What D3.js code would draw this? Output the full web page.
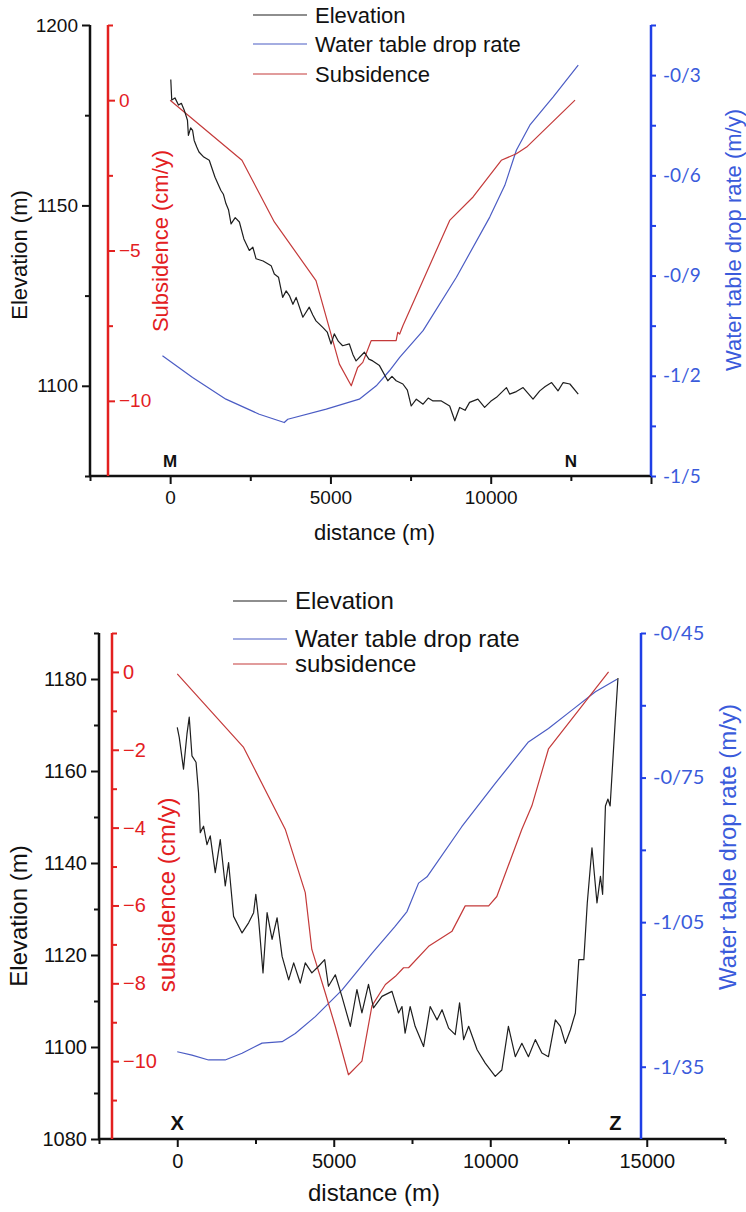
<!DOCTYPE html>
<html lang="en">
<head>
<meta charset="UTF-8">
<title>Elevation, water table and subsidence profiles</title>
<script src="https://d3js.org/d3.v7.min.js"></script>
<style>
    body { margin: 0; background: #fff; }
    svg { display: block; }
    text { font-family: "Liberation Sans", Arial, sans-serif; }
    .blue-lbl { font-family: Lato, "Liberation Sans", sans-serif; }
</style>
</head>
<body>
<svg width="746" height="1212"></svg>
<script>
// ---------- profile M-N (top) ----------
const mnElevDist = [20, 50, 150, 260, 350, 440, 540, 570, 640, 700, 750, 830, 900, 1050, 1220, 1400, 1580, 1660, 1740, 1820, 1900, 2030, 2160, 2300, 2470, 2580, 2680, 2900, 3150, 3250, 3380, 3510, 3620, 3720, 3830, 3930, 4140, 4340, 4450, 4550, 4760, 4900, 5020, 5120, 5250, 5380, 5590, 5700, 5800, 6060, 6200, 6320, 6530, 6790, 6920, 7050, 7260, 7400, 7520, 7680, 7890, 8050, 8200, 8460, 8720, 8880, 9030, 9200, 9340, 9600, 9810, 10000, 10180, 10490, 10590, 10800, 11010, 11320, 11530, 11700, 11900, 12100, 12260, 12470, 12730];
const mnElev = [1184.9, 1179.2, 1179.8, 1177.8, 1178.3, 1176.4, 1173.6, 1169.4, 1171.5, 1170.8, 1168, 1166.2, 1164.8, 1163.4, 1162.5, 1157.8, 1154.2, 1153.1, 1150.5, 1148.8, 1144.9, 1146.6, 1145.4, 1140.7, 1137.5, 1138.4, 1135.2, 1134.6, 1133.3, 1131, 1130.1, 1124.5, 1126.3, 1125, 1122.6, 1124.5, 1119, 1121.8, 1119.6, 1118, 1116.2, 1114.9, 1111.6, 1114.4, 1112.3, 1111.1, 1111.6, 1108.7, 1106.9, 1109.3, 1107.4, 1106.9, 1105.6, 1101.4, 1102.6, 1101.4, 1100.5, 1098.8, 1094.4, 1096.3, 1094.9, 1096.6, 1095.8, 1095.8, 1094.4, 1090.3, 1094, 1093.2, 1095.4, 1096.3, 1094, 1095.7, 1096.8, 1099.5, 1097.7, 1098.4, 1099.5, 1096.3, 1098.6, 1099.8, 1100.9, 1098.6, 1100.9, 1100.5, 1097.7];

const mnSubDist = [0, 2240, 3250, 4550, 5280, 5650, 5850, 6010, 6270, 7050, 7100, 7160, 7260, 8720, 9450, 10330, 10800, 11120, 12630];
const mnSub = [0, -2.0, -4.05, -6.0, -8.78, -9.5, -8.89, -8.72, -8.0, -8.0, -7.72, -7.78, -7.5, -4.0, -3.22, -2.0, -1.78, -1.56, 0.0];

const mnWaterDist = [-240, 700, 1740, 2780, 3560, 3670, 4870, 5900, 6430, 6840, 7160, 7890, 8930, 9970, 10440, 10800, 11220, 11690, 11950, 12730];
const mnWater = [-1.14, -1.205, -1.27, -1.315, -1.34, -1.33, -1.30, -1.27, -1.23, -1.185, -1.145, -1.065, -0.905, -0.725, -0.63, -0.525, -0.45, -0.395, -0.365, -0.27];

const mnElevTicks = [1100, 1150, 1200];
const mnSubTicks = [0, -5, -10];
const mnWaterTicks = [-0.3, -0.6, -0.9, -1.2, -1.5];
const mnWaterLabels = ["-0/3", "-0/6", "-0/9", "-1/2", "-1/5"];

// ---------- profile X-Z (bottom) ----------
const xzElevDist = [0, 64, 200, 310, 383, 470, 600, 680, 735, 840, 950, 1054, 1214, 1374, 1534, 1640, 1800, 2070, 2280, 2440, 2510, 2600, 2740, 2870, 3030, 3190, 3350, 3560, 3720, 3930, 4090, 4300, 4510, 4710, 4830, 5050, 5260, 5530, 5740, 5900, 6110, 6270, 6540, 6860, 7070, 7180, 7280, 7440, 7600, 7870, 8080, 8300, 8460, 8670, 8880, 9020, 9150, 9310, 9580, 9840, 10160, 10370, 10580, 10800, 11010, 11220, 11440, 11650, 11860, 12080, 12240, 12400, 12560, 12720, 12830, 12990, 13100, 13250, 13410, 13520, 13590, 13680, 13760, 13830, 13990, 14080];
const xzElev = [1169.5, 1167.3, 1160.4, 1168, 1171.7, 1163.3, 1161.9, 1155.3, 1146.6, 1148, 1144, 1145.9, 1137.9, 1145.1, 1135, 1140.1, 1128.4, 1124.8, 1127, 1129.2, 1133.2, 1127.7, 1116.1, 1129.2, 1123.4, 1128.1, 1119.7, 1114.6, 1118.3, 1113.9, 1118.3, 1116.1, 1117.5, 1119, 1113.2, 1115.7, 1111, 1104.5, 1112.5, 1107.4, 1113.6, 1108.5, 1111, 1112.1, 1107.4, 1108.8, 1103, 1108.8, 1104.5, 1100.1, 1108.8, 1105.9, 1108.1, 1104.1, 1102.7, 1109.6, 1101.6, 1104.5, 1099.4, 1096.5, 1093.6, 1095, 1104.5, 1097.9, 1100.8, 1097.9, 1101.6, 1098.7, 1097.9, 1105.9, 1104.5, 1100.8, 1103.7, 1107.4, 1119, 1119, 1131.3, 1143.3, 1131.3, 1137.1, 1133.2, 1152.4, 1153.9, 1152.4, 1170.6, 1180.2];

const xzSubDist = [0, 2120, 3450, 4090, 4300, 4730, 5050, 5470, 5900, 6220, 6650, 6970, 7230, 7390, 8030, 8780, 9200, 9950, 10210, 11010, 11330, 11860, 13780];
const xzSub = [-0.05, -1.94, -4.04, -5.67, -7.13, -8.25, -9.11, -10.35, -10.0, -8.58, -8.03, -7.82, -7.6, -7.6, -7.05, -6.66, -6.01, -6.01, -5.77, -4.04, -3.44, -1.98, 0.0];

const xzWaterDist = [0, 470, 1000, 1530, 2070, 2710, 3350, 3770, 4410, 5260, 6220, 6960, 7340, 7710, 7980, 9090, 10160, 11220, 11860, 12610, 13360, 14050];
const xzWater = [-1.319, -1.326, -1.336, -1.336, -1.322, -1.301, -1.298, -1.281, -1.246, -1.191, -1.115, -1.059, -1.028, -0.969, -0.956, -0.852, -0.762, -0.676, -0.648, -0.61, -0.572, -0.546];

const xzElevTicks = [1080, 1100, 1120, 1140, 1160, 1180];
const xzSubTicks = [0, -2, -4, -6, -8, -10];
const xzWaterTicks = [-0.45, -0.75, -1.05, -1.35];
const xzWaterLabels = ["-0/45", "-0/75", "-1/05", "-1/35"];

const legendNames = ["Elevation", "Water table drop rate"];

const C_ELEV = "#1e1e1e", C_WATER = "#4b5cc4", C_SUB = "#c43a3a";
const C_RED_AX = "#e3201f", C_BLUE_AX = "#1f3fe6", C_BLUE_TXT = "#3a5bdb";

const svg = d3.select("svg");

function drawPanel(p) {
    const g = svg.append("g");
    const x = d3.scaleLinear().domain(p.xDomain).range([p.left, p.right]);
    const yE = d3.scaleLinear().domain(p.elevDomain).range([p.bottom, p.top]);
    const yS = d3.scaleLinear().domain(p.subDomain).range([p.bottom, p.top]);
    const yW = d3.scaleLinear().domain(p.waterDomain).range([p.bottom, p.top]);

    // minor + major ticks helper
    function axisWith(axisFn, scale, major, minor, majorLen, minorLen, fmt) {
        const gm = g.append("g");
        gm.call(axisFn(scale).tickValues(minor).tickSize(minorLen).tickFormat(""));
        const gM = g.append("g");
        gM.call(axisFn(scale).tickValues(major).tickSize(majorLen).tickPadding(4).tickFormat(fmt));
        return [gm, gM];
    }

    // x axis
    const xa = axisWith(d3.axisBottom, x, p.xMajor, p.xMinor, 8, 5, d3.format("d"));
    xa.forEach(a => a.attr("transform", `translate(0,${p.bottom})`));
    xa[1].selectAll(".tick text").filter(d => !p.xLabelled.includes(d)).remove();

    // elevation axis (left, black)
    const ea = axisWith(d3.axisLeft, yE, p.elevMajor, p.elevMinor, 8, 5, d3.format("d"));
    ea.forEach(a => a.attr("transform", `translate(${p.left},0)`));

    // subsidence axis (red)
    const sa = axisWith(d3.axisRight, yS, p.subMajor, p.subMinor, 7, 5, d3.format("d"));
    sa.forEach(a => a.attr("transform", `translate(${p.redX},0)`));

    // water table axis (blue)
    const wa = axisWith(d3.axisRight, yW, p.waterMajor, p.waterMinor, 5, 5, (d, i) => p.waterLabels[i]);
    wa.forEach(a => a.attr("transform", `translate(${p.blueX},0)`));

    g.selectAll(".domain").remove();
    [xa, ea].forEach(ax => ax.forEach(a => {
        a.selectAll("line").attr("stroke", "#111").attr("stroke-width", 2);
        a.selectAll("text").attr("fill", "#111").style("font-size", p.tickFont + "px").style("font-family", "Liberation Sans, Arial");
    }));
    xa[1].selectAll("text").attr("dy", "0.85em");
    sa.forEach(a => {
        a.selectAll("line").attr("stroke", C_RED_AX).attr("stroke-width", 2);
        a.selectAll("text").attr("fill", C_RED_AX).style("font-size", p.tickFont + "px").style("font-family", "Liberation Sans, Arial");
    });
    wa.forEach(a => {
        a.selectAll("line").attr("stroke", C_BLUE_AX).attr("stroke-width", 2);
        a.selectAll("text").attr("fill", C_BLUE_TXT).attr("class", "blue-lbl").style("font-size", p.blueFont + "px").attr("x", 12);
    });

    // axis lines
    g.append("line").attr("x1", p.left).attr("x2", p.left).attr("y1", p.top).attr("y2", p.bottom + 1)
        .attr("stroke", "#111").attr("stroke-width", 2.5);
    g.append("line").attr("x1", p.left - 1).attr("x2", p.right).attr("y1", p.bottom).attr("y2", p.bottom)
        .attr("stroke", "#111").attr("stroke-width", 2.5);
    g.append("line").attr("x1", p.redX).attr("x2", p.redX).attr("y1", p.top).attr("y2", p.bottom)
        .attr("stroke", C_RED_AX).attr("stroke-width", 2.5);
    g.append("line").attr("x1", p.blueX).attr("x2", p.blueX).attr("y1", p.top).attr("y2", p.bottom)
        .attr("stroke", C_BLUE_AX).attr("stroke-width", 2.5);

    // series
    const series = [
        { xs: p.waterDist, ys: p.water, sc: yW, c: C_WATER },
        { xs: p.subDist, ys: p.sub, sc: yS, c: C_SUB },
        { xs: p.elevDist, ys: p.elev, sc: yE, c: C_ELEV }
    ];
    series.forEach(s => {
        const line = d3.line().x((d, i) => x(s.xs[i])).y(d => s.sc(d));
        g.append("path").attr("d", line(s.ys)).attr("fill", "none")
            .attr("stroke", s.c).attr("stroke-width", 1.2).attr("stroke-linejoin", "round");
    });

    // legend
    const leg = g.append("g");
    p.legendNames.forEach((name, i) => {
        const ly = p.legendY[i];
        leg.append("line").attr("x1", p.legendX).attr("x2", p.legendX + 54).attr("y1", ly).attr("y2", ly)
            .attr("stroke", [C_ELEV, C_WATER, C_SUB][i]).attr("stroke-width", 1.2);
        leg.append("text").attr("x", p.legendX + 62).attr("y", ly).attr("dy", "0.35em")
            .style("font-size", p.legendFont + "px").attr("fill", "#111").text(name);
    });

    // end-point letters
    p.ends.forEach(e => {
        g.append("text").attr("x", x(e.d)).attr("y", p.bottom - 9).attr("text-anchor", "middle")
            .style("font-size", p.endFont + "px").style("font-weight", "bold").attr("fill", "#111").text(e.t);
    });

    // titles
    g.append("text").attr("x", (p.left + p.blueX) / 2 + 4).attr("y", p.xTitleY).attr("text-anchor", "middle")
        .style("font-size", p.titleFont + "px").attr("fill", "#111").text("distance (m)");
    function vTitle(tx, ty, txt, col) {
        g.append("text").attr("transform", `translate(${tx},${ty}) rotate(-90)`).attr("text-anchor", "middle")
            .attr("dy", "0.35em").style("font-size", p.titleFont + "px").attr("fill", col).text(txt);
    }
    vTitle(19, p.elevTitleY, "Elevation (m)", "#111");
    vTitle(p.subTitleX, p.subTitleY, p.subTitle, C_RED_AX);
    vTitle(p.waterTitleX, p.waterTitleY, "Water table drop rate (m/y)", C_BLUE_TXT);
}

drawPanel({
    top: 25, bottom: 476, left: 90, right: 651, redX: 108, blueX: 651,
    xDomain: [-2500, 15000], xMajor: [0, 5000, 10000, 15000], xMinor: [-2500, 2500, 7500, 12500], xLabelled: [0, 5000, 10000],
    elevDomain: [1075, 1200], elevMajor: mnElevTicks, elevMinor: [1075, 1125, 1175],
    subDomain: [-12.5, 2.5], subMajor: mnSubTicks, subMinor: [2.5, -2.5, -7.5],
    waterDomain: [-1.5, -0.15], waterMajor: mnWaterTicks, waterMinor: [-0.15, -0.45, -0.75, -1.05, -1.35], waterLabels: mnWaterLabels,
    elevDist: mnElevDist, elev: mnElev, subDist: mnSubDist, sub: mnSub, waterDist: mnWaterDist, water: mnWater,
    legendNames: legendNames.concat(["Subsidence"]), legendX: 253, legendY: [15, 44, 74], legendFont: 22,
    ends: [{ d: 0, t: "M" }, { d: 12500, t: "N" }], endFont: 17,
    tickFont: 19, blueFont: 19, titleFont: 22, xTitleY: 540,
    elevTitleY: 255, subTitle: "Subsidence (cm/y)", subTitleX: 160, subTitleY: 241, waterTitleX: 733, waterTitleY: 240
});

drawPanel({
    top: 633, bottom: 1139, left: 99, right: 725, redX: 112, blueX: 641,
    xDomain: [-2500, 17500], xMajor: [0, 5000, 10000, 15000], xMinor: [-2500, 2500, 7500, 12500, 17500], xLabelled: [0, 5000, 10000, 15000],
    elevDomain: [1080, 1190], elevMajor: xzElevTicks, elevMinor: [1090, 1110, 1130, 1150, 1170, 1190],
    subDomain: [-12, 1], subMajor: xzSubTicks, subMinor: [1, -1, -3, -5, -7, -9, -11],
    waterDomain: [-1.5, -0.45], waterMajor: xzWaterTicks, waterMinor: [-0.6, -0.9, -1.2], waterLabels: xzWaterLabels,
    elevDist: xzElevDist, elev: xzElev, subDist: xzSubDist, sub: xzSub, waterDist: xzWaterDist, water: xzWater,
    legendNames: legendNames.concat(["subsidence"]), legendX: 233, legendY: [601, 639, 664], legendFont: 24,
    ends: [{ d: 0, t: "X" }, { d: 14000, t: "Z" }], endFont: 20,
    tickFont: 20, blueFont: 20, titleFont: 24, xTitleY: 1201,
    elevTitleY: 916, subTitle: "subsidence (cm/y)", subTitleX: 167, subTitleY: 895, waterTitleX: 728, waterTitleY: 847
});
</script>
</body>
</html>
